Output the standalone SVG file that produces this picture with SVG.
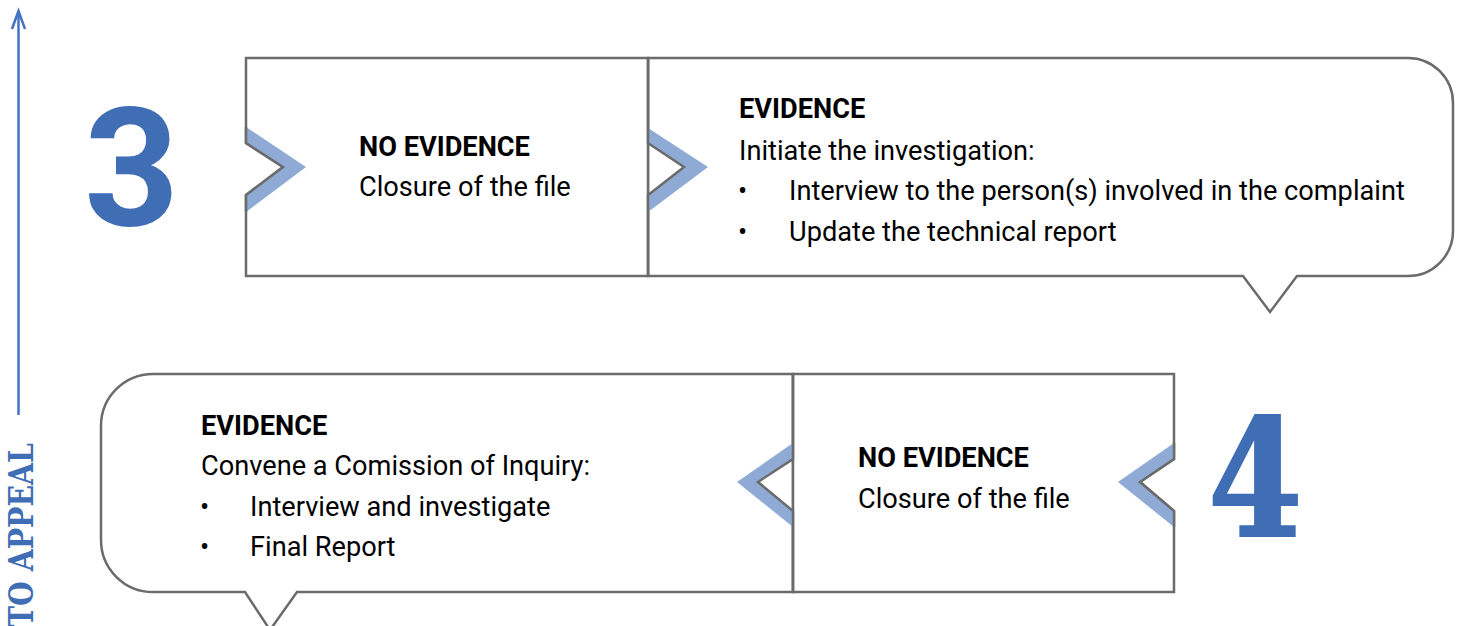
<svg xmlns="http://www.w3.org/2000/svg" width="1465" height="626" viewBox="0 0 1465 626">
<style>
.box{fill:#fff;stroke:#6b6b6b;stroke-width:2.5;stroke-linejoin:miter}
.chev{fill:#8eaad5;stroke:none}
.notch{fill:none;stroke:#6b6b6b;stroke-width:2.5}
.t{font-family:Roboto,"Liberation Sans",sans-serif;font-size:27.2px;fill:#000}
.b{font-weight:bold}
.num{fill:#3f6eb5;font-weight:bold}
</style>
<rect width="1465" height="626" fill="#fff"/>
<g id="appeal">
<line x1="18.5" y1="415" x2="18.5" y2="12" stroke="#4472c4" stroke-width="2.5"/>
<polyline points="12,29 18.5,11 25,29" fill="none" stroke="#4472c4" stroke-width="2.5"/>
<text transform="translate(33,627) rotate(-90)" font-family="'DejaVu Serif',serif" font-weight="bold" font-size="33" fill="#3f6eb5" textLength="184" lengthAdjust="spacingAndGlyphs">TO APPEAL</text>
</g>
<g id="num3"><text x="84" y="225" class="num" font-family="Roboto,'Liberation Sans',sans-serif" font-size="166">3</text></g>
<g id="num4"><text transform="translate(1208,536) scale(0.84,1)" class="num" font-family="'DejaVu Serif',serif" font-size="162" stroke="#3f6eb5" stroke-width="2">4</text></g>
<g id="step3-evidence">
<path class="box" d="M648,58 H1408 A45,45 0 0 1 1453,103 V231 A45,45 0 0 1 1408,276 H1297 L1270,312 L1243,276 H648 Z"/>
<text class="t b" x="739" y="118">EVIDENCE</text>
<text class="t" x="739" y="160">Initiate the investigation:</text>
<text class="t" x="738" y="200">•</text>
<text class="t" x="789" y="200">Interview to the person(s) involved in the complaint</text>
<text class="t" x="738" y="241">•</text>
<text class="t" x="789" y="241">Update the technical report</text>
</g>
<g id="step3-noevidence">
<path class="box" d="M648,58 H246 V143 L283,167 L246,195 V276 H648 Z"/>
<polygon class="chev" points="246,127 306,167 246,212 246,195 283,167 246,143"/>
<polyline class="notch" points="246,127 246,143 283,167 246,195 246,212"/>
<text class="t b" x="359" y="156">NO EVIDENCE</text>
<text class="t" x="359" y="196">Closure of the file</text>
</g>
<g id="step4-evidence">
<path class="box" d="M793,374 H153 A52,52 0 0 0 101,426 V540 A52,52 0 0 0 153,592 H245 L270,630 L297,592 H793 Z"/>
<text class="t b" x="201" y="435">EVIDENCE</text>
<text class="t" x="201" y="475">Convene a Comission of Inquiry:</text>
<text class="t" x="200" y="516">•</text>
<text class="t" x="250" y="516">Interview and investigate</text>
<text class="t" x="200" y="556">•</text>
<text class="t" x="250" y="556">Final Report</text>
</g>
<g id="step4-noevidence">
<path class="box" d="M793,374 H1174 V459 L1140,482 L1174,511 V592 H793 Z"/>
<text class="t b" x="858" y="467">NO EVIDENCE</text>
<text class="t" x="858" y="508">Closure of the file</text>
</g>
<g id="connectors">
<polygon class="chev" points="648,128 708,167 648,212 648,195 684,167 648,143"/>
<polyline class="notch" points="648,58 648,143 684,167 648,195 648,276"/>
<polygon class="chev" points="793,443 737,482 793,527 793,511 758,482 793,459"/>
<polyline class="notch" points="793,374 793,459 758,482 793,511 793,592"/>
<polygon class="chev" points="1174,443 1118,482 1174,527 1174,511 1140,482 1174,459"/>
<polyline class="notch" points="1174,443 1174,459 1140,482 1174,511 1174,527"/>
</g>
</svg>
